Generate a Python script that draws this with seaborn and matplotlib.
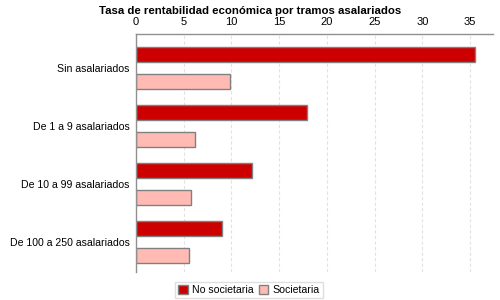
import matplotlib
matplotlib.use("Agg")
import matplotlib.pyplot as plt
import seaborn as sns
import pandas as pd
from matplotlib.patches import Patch

categories = ["Sin asalariados", "De 1 a 9 asalariados", "De 10 a 99 asalariados", "De 100 a 250 asalariados"]
no_societaria = [35.5, 17.9, 12.1, 9.0]
societaria = [9.8, 6.2, 5.8, 5.6]
series = ["No societaria", "Societaria"]
colors = ["#CC0000", "#FFBBB3"]
xticks = [0, 5, 10, 15, 20, 25, 30, 35]

df = pd.DataFrame({
    "cat": categories * 2,
    "val": no_societaria + societaria,
    "serie": [series[0]] * 4 + [series[1]] * 4,
})

sns.set_style("white")
plt.rcParams["font.family"] = ["Liberation Sans", "DejaVu Sans"]
plt.rcParams["text.color"] = "black"

fig = plt.figure(figsize=(5, 3), dpi=100)
ax = fig.add_axes([136 / 500, 1 - 272 / 300, (493 - 136) / 500, (272 - 34) / 300])

sns.barplot(data=df, y="cat", x="val", hue="serie", order=categories,
            hue_order=series, palette=colors, orient="h", width=0.93, gap=0.44,
            edgecolor="#808080", linewidth=1, saturation=1, legend=False, ax=ax)

ax.set_xlim(0, 37.4)
ax.set_ylim(3.52, -0.58)
ax.set_xticks(xticks)
ax.xaxis.tick_top()
ax.tick_params(axis="x", top=True, length=0, pad=5, labelsize=8, labelcolor="black")
ax.tick_params(axis="y", length=0, pad=4.5, labelsize=7.6, labelcolor="black")
ax.set_xlabel("")
ax.set_ylabel("")
ax.grid(axis="x", color="#E2E2E2", linestyle=(0, (3, 2)), linewidth=0.8)
ax.set_axisbelow(True)
for s in ["right", "bottom"]:
    ax.spines[s].set_visible(False)
for s in ["top", "left"]:
    ax.spines[s].set_color("#909090")
    ax.spines[s].set_linewidth(1)

fig.suptitle("Tasa de rentabilidad económica por tramos asalariados",
             x=0.5, y=0.98, fontsize=8.2, fontweight="bold", color="black")

handles = [Patch(facecolor=c, edgecolor="#808080", label=l) for c, l in zip(colors, series)]
leg = fig.legend(handles=handles, loc="center", bbox_to_anchor=(0.498, 1 - 290 / 300),
                 ncol=2, fontsize=7.6, frameon=True, fancybox=False,
                 handlelength=0.9, handleheight=0.9, handletextpad=0.4,
                 columnspacing=0.5, borderpad=0.3, labelcolor="black")
leg.get_frame().set_edgecolor("#D8D8D8")
leg.get_frame().set_linewidth(1)

fig.savefig("out.png", dpi=100)
